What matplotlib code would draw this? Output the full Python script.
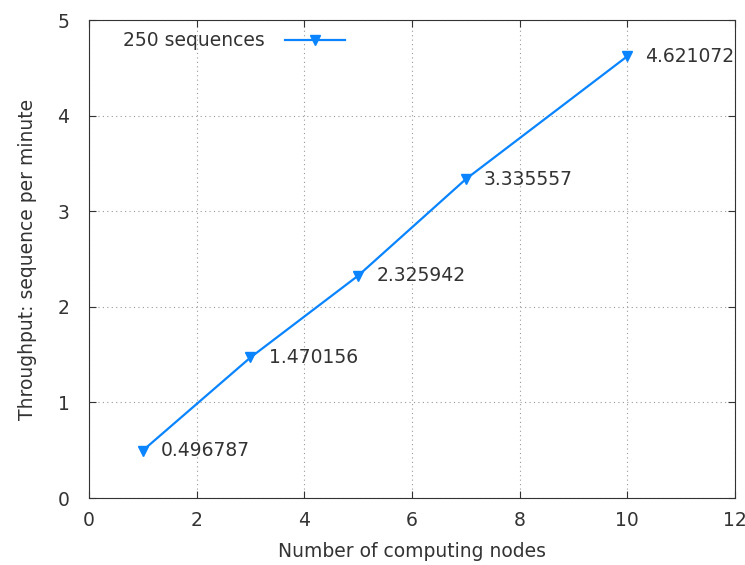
import matplotlib
matplotlib.use("Agg")
import matplotlib.pyplot as plt

nodes = [1, 3, 5, 7, 10]
throughput = [0.496787, 1.470156, 2.325942, 3.335557, 4.621072]
labels = ["0.496787", "1.470156", "2.325942", "3.335557", "4.621072"]

plt.rcParams['font.family'] = ['DejaVu Sans']
fs = 13.5

fig = plt.figure(figsize=(7.45, 5.65), dpi=100)
ax = fig.add_axes([89/745, 1 - 498/565, (735 - 89)/745, (498 - 20)/565])

color = '#0a84ff'
ax.plot(nodes, throughput, color=color, lw=1.6, marker='v', markersize=7.5,
        label='250 sequences')

for x, y, s in zip(nodes, throughput, labels):
    ax.annotate(s, (x, y), xytext=(13, 0), textcoords='offset points',
                va='center', ha='left', fontsize=fs, color='#333333')

ax.set_xlim(0, 12)
ax.set_ylim(0, 5)
ax.set_xticks(range(0, 13, 2))
ax.set_yticks(range(0, 6))
ax.grid(True, linestyle=(0, (1, 3)), color='#999999', lw=0.8)
ax.tick_params(direction='in', top=True, right=True, length=5, labelsize=fs,
               colors='#333333')
ax.tick_params(axis='x', pad=9)
ax.tick_params(axis='y', pad=14)
for sp in ax.spines.values():
    sp.set_color('#333333')

ax.set_xlabel('Number of computing nodes', fontsize=fs, color='#333333', labelpad=9)
ax.set_ylabel('Throughput: sequence per minute', fontsize=fs, color='#333333', labelpad=15)

leg = ax.legend(loc='upper left', frameon=False, markerfirst=False,
                handlelength=3.2, handletextpad=1.1, fontsize=fs, borderaxespad=0.2,
                bbox_to_anchor=(0.035, 1.0))
for t in leg.get_texts():
    t.set_color('#333333')

fig.savefig('out.png', dpi=100)
